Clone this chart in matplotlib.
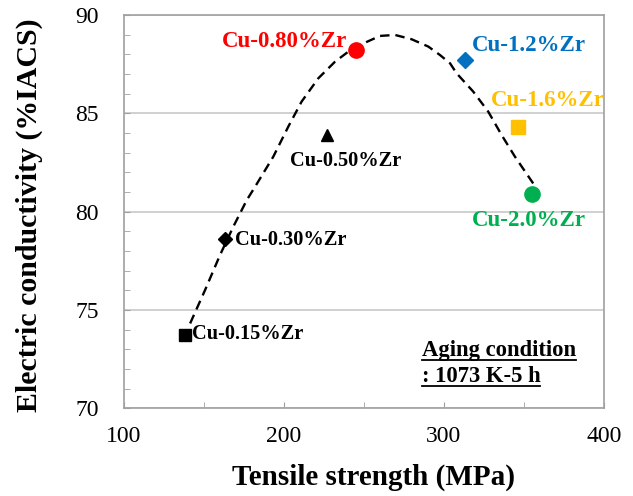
import matplotlib.pyplot as plt
from matplotlib.ticker import MultipleLocator

plt.rcParams['font.family'] = ['Liberation Serif', 'DejaVu Serif']

# Messpunkte
labels = ["Cu-0.15%Zr", "Cu-0.30%Zr", "Cu-0.50%Zr", "Cu-0.80%Zr",
          "Cu-1.2%Zr", "Cu-1.6%Zr", "Cu-2.0%Zr"]
strength = [138, 163, 227, 245, 313, 346, 355]
conductivity = [73.7, 78.6, 83.9, 88.2, 87.7, 84.3, 80.9]

# gestrichelte Trendlinie
curve_x = [141.3, 150.6, 160.0, 168.3, 176.7, 181.9, 193.3, 202.7, 211.0, 221.5,
           231.9, 240.2, 247.5, 260.0, 269.4, 279.8, 290.2, 297.5, 303.8, 307.9,
           318.3, 327.7, 336.0, 344.4, 355.8]
curve_y = [74.31, 76.0, 77.79, 79.23, 80.58, 81.26, 82.79, 84.32, 85.59, 86.78,
           87.62, 88.13, 88.47, 88.93, 88.98, 88.76, 88.39, 87.96, 87.54, 87.03,
           86.1, 85.08, 83.9, 82.79, 81.43]

markers = ["s", "D", "^", "o", "D", "s", "o"]
colors = ["black", "black", "black", "#ff0000", "#0070c0", "#ffc000", "#00b050"]
sizes = [9, 7, 9, 11, 8.5, 10.5, 11]

fig = plt.figure(figsize=(6.33, 4.96), dpi=100)
ax = fig.add_axes([0.196, 0.177, 0.758, 0.793])

ax.plot(curve_x, curve_y, color="black", lw=1.7, ls=(0, (4, 2.5)), zorder=2)

for xs, ys, m, c, s in zip(strength, conductivity, markers, colors, sizes):
    ax.plot(xs, ys, marker=m, color=c, markersize=s, ls="none", zorder=3)

# Beschriftungen der Punkte
ax.text(239.4, 88.63, labels[3], color="#ff0000", fontsize=16.5, fontweight="bold", ha="right", va="center")
ax.text(317.3, 88.42, labels[4], color="#0070c0", fontsize=16.5, fontweight="bold", va="center")
ax.text(329.2, 85.67, labels[5], color="#ffc000", fontsize=16.5, fontweight="bold", va="center")
ax.text(317.3, 79.57, labels[6], color="#00b050", fontsize=16.5, fontweight="bold", va="center")
ax.text(203.7, 82.55, labels[2], color="black", fontsize=14.7, fontweight="bold", va="center")
ax.text(169.4, 78.55, labels[1], color="black", fontsize=14.7, fontweight="bold", va="center")
ax.text(142.3, 73.75, labels[0], color="black", fontsize=14.7, fontweight="bold", va="center")

t1 = ax.text(286, 72.95, "Aging condition", fontsize=16.3, fontweight="bold", va="center")
t2 = ax.text(286, 71.6, ": 1073 K-5 h", fontsize=16.3, fontweight="bold", va="center")

ax.set_xlim(100, 400)
ax.set_ylim(70, 90)
ax.xaxis.set_major_locator(MultipleLocator(100))
ax.xaxis.set_minor_locator(MultipleLocator(50))
ax.yaxis.set_major_locator(MultipleLocator(5))
ax.yaxis.set_minor_locator(MultipleLocator(1))
ax.tick_params(which="both", direction="in", color="#a0a0a0", labelsize=17)
ax.tick_params(axis="x", which="both", length=4, pad=13)
ax.tick_params(axis="y", which="both", length=4, pad=18)
ax.grid(axis="y", which="major", color="#c8c8c8", lw=1.2)
for sp in ax.spines.values():
    sp.set_color("#a0a0a0")
    sp.set_linewidth(1.2)

ax.set_xlabel("Tensile strength (MPa)", fontsize=21, fontweight="bold")
ax.set_ylabel("Electric conductivity (%IACS)", fontsize=21.5, fontweight="bold")
ax.xaxis.set_label_coords(0.519, -0.14)
ax.yaxis.set_label_coords(-0.169, 0.491)

# Unterstreichung
fig.canvas.draw()
r = fig.canvas.get_renderer()
inv = fig.transFigure.inverted()
for t in (t1, t2):
    bb = t.get_window_extent(r)
    (x0, y0), (x1, y1) = inv.transform([(bb.x0, bb.y0), (bb.x1, bb.y1)])
    fig.add_artist(plt.Line2D([x0, x1], [y0 + 0.002, y0 + 0.002], color="black", lw=1.3,
                              transform=fig.transFigure))

fig.savefig("out.png", dpi=100)
